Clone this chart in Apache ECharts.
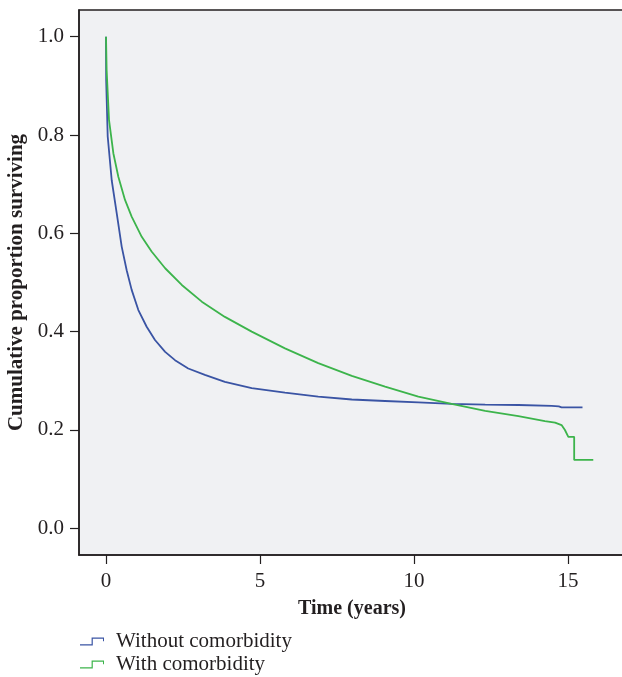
<!DOCTYPE html>
<html>
<head>
<meta charset="utf-8">
<script src="https://cdn.jsdelivr.net/npm/echarts@6/dist/echarts.min.js"></script>
<style>
html,body{margin:0;padding:0;background:#ffffff;}
#chart{width:622px;height:677px;}
</style>
</head>
<body>
<div id="chart"></div>
<script>
// ---- Data ----
var seriesNames = ['Without comorbidity', 'With comorbidity'];

var withoutTime = [0, 0.005, 0.055, 0.185, 0.347, 0.509, 0.671, 0.833, 1.05, 1.32, 1.59, 1.92, 2.24, 2.67, 3.21, 3.86, 4.73, 5.81, 6.89, 7.98, 9.06, 10.14, 11.22, 12.31, 13.39, 14.47, 14.70, 14.79, 15.47];
var withoutSurv = [1.0, 0.912, 0.797, 0.708, 0.641, 0.573, 0.525, 0.485, 0.444, 0.410, 0.383, 0.359, 0.342, 0.325, 0.312, 0.298, 0.285, 0.276, 0.268, 0.262, 0.259, 0.256, 0.253, 0.2515, 0.2508, 0.249, 0.248, 0.246, 0.246];

var withTime = [0, 0.02, 0.097, 0.238, 0.40, 0.617, 0.833, 1.16, 1.48, 1.92, 2.46, 3.11, 3.86, 4.73, 5.81, 6.89, 7.98, 9.06, 10.14, 11.22, 12.31, 13.39, 14.25, 14.58, 14.79, 14.90, 15.01, 15.20, 15.20, 15.82];
var withSurv = [1.0, 0.932, 0.831, 0.763, 0.715, 0.668, 0.634, 0.593, 0.563, 0.529, 0.495, 0.461, 0.430, 0.400, 0.366, 0.336, 0.310, 0.288, 0.268, 0.253, 0.239, 0.228, 0.218, 0.215, 0.210, 0.200, 0.186, 0.186, 0.139, 0.139];

var xTicks = [0, 5, 10, 15];
var yTicks = [0.0, 0.2, 0.4, 0.6, 0.8, 1.0];

var xTitle = 'Time (years)';
var yTitle = 'Cumulative proportion surviving';

function pairs(xs, ys) {
  var out = [];
  for (var i = 0; i < xs.length; i++) out.push([xs[i], ys[i]]);
  return out;
}

var FONT = 'Liberation Serif';
var INK = '#231f20';
var legendIcon = 'path://M0 7.6 L11.6 7.6 L11.6 1.0 L24 1.0 L24 4.6 L23 4.6 L23 2.2 L12.8 2.2 L12.8 8.8 L0 8.8 Z M31 4 L31 4.01 L31.01 4 Z';

var chart = echarts.init(document.getElementById('chart'), null, {renderer: 'canvas'});
chart.setOption({
  animation: false,
  backgroundColor: '#ffffff',
  textStyle: {fontFamily: FONT},
  grid: {
    left: 79, top: 10, right: -3, bottom: 122,
    outerBoundsMode: 'none',
    containLabel: false,
    show: true,
    backgroundColor: '#f0f1f3',
    borderColor: INK,
    borderWidth: 1.5
  },
  legend: {
    orient: 'vertical',
    left: 80,
    top: 631,
    padding: 0,
    itemWidth: 31,
    itemHeight: 8,
    itemGap: 2,
    icon: legendIcon,
    textStyle: {fontFamily: FONT, fontSize: 21, color: INK},
    data: seriesNames
  },
  xAxis: {
    type: 'value',
    min: -0.877,
    max: 16.85,
    name: xTitle,
    nameLocation: 'middle',
    nameGap: 44,
    nameTextStyle: {fontFamily: FONT, fontWeight: 'bold', fontSize: 20, color: INK},
    axisLine: {show: true, onZero: false, lineStyle: {color: INK, width: 1.5}},
    axisTick: {show: true, length: 9, customValues: xTicks, lineStyle: {color: INK, width: 1.2}},
    axisLabel: {customValues: xTicks, margin: 16, fontFamily: FONT, fontSize: 21, color: INK},
    splitLine: {show: false}
  },
  yAxis: {
    type: 'value',
    min: -0.0543,
    max: 1.0543,
    name: yTitle,
    nameLocation: 'middle',
    nameGap: 51,
    nameTextStyle: {fontFamily: FONT, fontWeight: 'bold', fontSize: 21, color: INK},
    axisLine: {show: true, onZero: false, lineStyle: {color: INK, width: 1.5}},
    axisTick: {show: true, length: 9, customValues: yTicks, lineStyle: {color: INK, width: 1.2}},
    axisLabel: {
      customValues: yTicks, margin: 15, fontFamily: FONT, fontSize: 21, color: INK,
      formatter: function (v) { return v.toFixed(1); }
    },
    splitLine: {show: false}
  },
  series: [
    {
      name: seriesNames[0],
      type: 'line',
      data: pairs(withoutTime, withoutSurv),
      showSymbol: false,
      symbol: 'none',
      color: '#3a54a4',
      lineStyle: {color: '#3a54a4', width: 1.8},
      z: 2
    },
    {
      name: seriesNames[1],
      type: 'line',
      data: pairs(withTime, withSurv),
      showSymbol: false,
      symbol: 'none',
      color: '#3cb44b',
      lineStyle: {color: '#3cb44b', width: 1.8},
      z: 3
    }
  ]
});
</script>
</body>
</html>
